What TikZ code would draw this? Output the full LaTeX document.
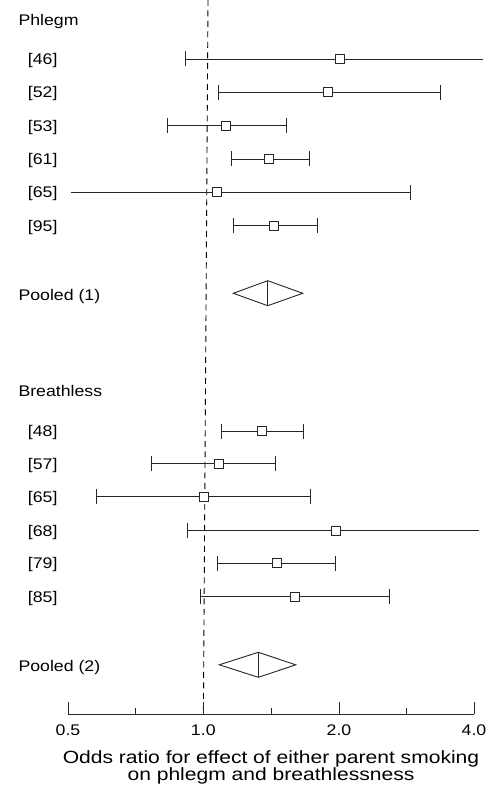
\documentclass[tikz,border=0pt]{standalone}
\usepackage{fontspec}
\setmainfont{Liberation Sans}[FakeStretch=1.15]
\newfontfamily\capfont{Liberation Sans}[FakeStretch=1.19]
\begin{document}
\begin{tikzpicture}[x=1pt,y=-1pt,
  ln/.style={draw=black!85,line width=0.9pt},
  sq/.style={draw=black!85,fill=white,line width=0.9pt,minimum size=9pt,inner sep=0pt,rectangle},
  lbl/.style={anchor=base west,inner sep=0pt,font=\fontsize{15.4}{18}\selectfont},
  tlbl/.style={anchor=base,inner sep=0pt,font=\fontsize{15.4}{18}\selectfont},
  captext/.style={anchor=base,inner sep=0pt,font=\capfont\fontsize{17.7}{18}\selectfont}]
\useasboundingbox (0,0) rectangle (491,786);
% reference dashed line
\coordinate (dtop) at (208,0);
\coordinate (dbot) at (203.4,713);
\draw[draw=black,line width=0.9pt,dash pattern=on 6pt off 4.5pt] (dtop) -- (dbot);
% headers
\node[lbl] (hphlegm) at (18.3,26) {Phlegm};
\node[lbl] (hbreath) at (18.3,396.7) {Breathless};
\node[lbl] (pool1) at (18.3,300) {Pooled (1)};
\node[lbl] (pool2) at (18.3,671) {Pooled (2)};
% studies: name/label/y/left/right/square/lefttick/righttick
\foreach \n/\t/\y/\l/\r/\s/\lt/\rt in {
  p46/46/59/185/482.7/340/1/0,
  p52/52/92.3/218.3/440.3/327.7/1/1,
  p53/53/125.7/167.3/286.3/225.7/1/1,
  p61/61/159/231/309.3/269.3/1/1,
  p65/65/192.3/71/410/217.3/0/1,
  p95/95/225.7/233/317.7/274.3/1/1,
  b48/48/431/221.7/303.3/262/1/1,
  b57/57/463.7/151.7/275.3/219.3/1/1,
  b65/65/496.7/96.3/310.3/204.3/1/1,
  b68/68/530.7/187.7/479/335.7/1/0,
  b79/79/563.3/217/335.3/276.7/1/1,
  b85/85/596.7/200/389.3/295/1/1}{
  \node[lbl] (lab\n) at (27.7,\y+5.5) {[\t]};
  \coordinate (lo\n) at (\l,\y);
  \coordinate (hi\n) at (\r,\y);
  \draw[ln] (lo\n) -- (hi\n);
  \ifnum\lt=1 \draw[ln] ([yshift=-7.5pt]lo\n) -- ([yshift=7.5pt]lo\n); \fi
  \ifnum\rt=1 \draw[ln] ([yshift=-7.5pt]hi\n) -- ([yshift=7.5pt]hi\n); \fi
  \node[sq] (sq\n) at (\s,\y) {};
}
% pooled diamonds
\coordinate (d1l) at (233.3,293.3);
\coordinate (d1t) at (267.7,280.7);
\coordinate (d1r) at (302.7,293.3);
\coordinate (d1b) at (267.7,305.7);
\draw[ln,line join=miter] (d1l) -- (d1t) -- (d1r) -- (d1b) -- cycle;
\draw[ln] (d1t) -- (d1b);
\coordinate (d2l) at (219.3,664.8);
\coordinate (d2t) at (258.3,652.3);
\coordinate (d2r) at (295.7,664.8);
\coordinate (d2b) at (258.3,677.3);
\draw[ln,line join=miter] (d2l) -- (d2t) -- (d2r) -- (d2b) -- cycle;
\draw[ln] (d2t) -- (d2b);
% axis
\coordinate (ax0) at (68,714.3);
\coordinate (ax1) at (474,714.3);
\draw[ln] (ax0) -- (ax1);
\foreach \x/\v in {68/0.5,203.3/1.0,339/2.0,474/4.0}{
  \draw[ln] (\x,714.3) -- (\x,701.7);
  \node[tlbl] (tk\v) at (\x,735) {\v};
}
\foreach \x in {135.7,271.3,406.7}{
  \draw[ln] (\x,714.3) -- (\x,708.3);
}
\node[captext] (cap1) at (271,763.5) {Odds ratio for effect of either parent smoking};
\node[captext] (cap2) at (271,780.5) {on phlegm and breathlessness};
\end{tikzpicture}
\end{document}
